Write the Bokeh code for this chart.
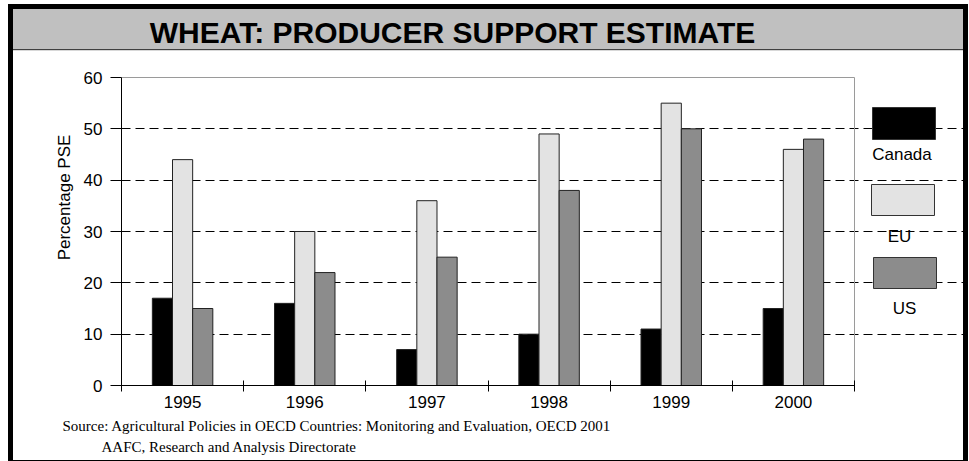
from bokeh.plotting import figure
from bokeh.models import (Range1d, FixedTicker, BoxAnnotation, Label, ColumnDataSource, Title)
from bokeh.transform import dodge
from bokeh.embed import file_html
from bokeh.resources import INLINE

# ---- data ----
years = [1995, 1996, 1997, 1998, 1999, 2000]
canada = [17, 16, 7, 10, 11, 15]
eu = [44, 30, 36, 49, 55, 46]
us = [15, 22, 25, 38, 50, 48]
series_names = ["Canada", "EU", "US"]
series_colors = ["#000000", "#e3e3e3", "#8c8c8c"]
y_ticks = [0, 10, 20, 30, 40, 50, 60]
title_text = "WHEAT: PRODUCER SUPPORT ESTIMATE"
y_label = "Percentage PSE"
source_lines = ["Source: Agricultural Policies in OECD Countries: Monitoring and Evaluation, OECD 2001",
                "AAFC, Research and Analysis Directorate"]

SANS = "Liberation Sans"
SERIF = "Liberation Serif"

# ---- layout (canvas px) ----
W, H = 950, 451
FL, FT, FB = 108, 0, 376        # frame left / top / bottom; frame runs to right edge
PLOT_TOP = 68                   # where y = 60 sits
PX_PER_YEAR = 733 / 6
x0 = years[0] - 0.5
x1 = years[-1] + 0.5
x_end = x0 + (W - FL) / PX_PER_YEAR
y_end = y_ticks[-1] + (PLOT_TOP - FT) * (y_ticks[-1] - y_ticks[0]) / (FB - PLOT_TOP)

src = ColumnDataSource(dict(year=years, Canada=canada, EU=eu, US=us))

band = ("linear-gradient(to bottom, #c0c0c0 0px, #c0c0c0 40px, #404040 40px, #404040 41.5px, "
        "#d8d8d8 41.5px, #d8d8d8 42.5px, #ffffff 42.5px)")

p = figure(width=W, height=H, output_backend="svg", toolbar_location=None, title_location=None,
           x_range=Range1d(x0, x_end), y_range=Range1d(y_ticks[0], y_end),
           min_border_left=FL, min_border_right=0, min_border_top=FT,
           min_border_bottom=H - FB,
           styles={"margin-left": "13px", "margin-top": "9px",
                   "outline": "5px solid black", "background": band})
p.extra_x_ranges = {"cx": Range1d(FL, W)}
p.extra_y_ranges = {"cy": Range1d(FB, FT)}
p.background_fill_color = None
p.border_fill_color = None
p.outline_line_color = None

# grey frame lines (top and right of the plotting area)
p.segment(x0=[x0, x1], y0=[y_ticks[-1], y_ticks[0]], x1=[x1, x1], y1=[y_ticks[-1], y_ticks[-1]],
          line_color="#9a9a9a", line_width=1)

bw = 0.165
for name, col, off in zip(series_names, series_colors, [-bw, 0.0, bw]):
    p.vbar(x=dodge("year", off), top=name, width=bw, bottom=0, source=src,
           fill_color=col, line_color="#222222", line_width=1)

# x axis
xa = p.xaxis[0]
xa.bounds = (x0, x1)
xa.ticker = FixedTicker(ticks=years, minor_ticks=[y - 0.5 for y in years] + [x1])
xa.major_tick_line_color = None
xa.major_tick_out = 0
xa.major_tick_in = 0
xa.minor_tick_in = 5
xa.minor_tick_out = 6
xa.minor_tick_line_color = "black"
xa.axis_line_color = "black"
xa.major_label_text_font = SANS
xa.major_label_text_font_size = "17px"
xa.major_label_text_color = "black"
xa.major_label_standoff = 4

# y axis
ya = p.yaxis[0]
ya.bounds = (y_ticks[0], y_ticks[-1])
ya.ticker = FixedTicker(ticks=y_ticks, minor_ticks=[])
ya.major_tick_in = 0
ya.major_tick_out = 11
ya.major_tick_line_color = "black"
ya.axis_line_color = "black"
ya.major_label_text_font = SANS
ya.major_label_text_font_size = "17px"
ya.major_label_text_color = "black"
ya.major_label_standoff = 8
ya.axis_label = y_label
ya.axis_label_text_font = SANS
ya.axis_label_text_font_size = "17px"
ya.axis_label_text_font_style = "normal"
ya.axis_label_text_color = "black"
ya.axis_label_standoff = 7

p.xgrid.grid_line_color = None
p.ygrid.ticker = FixedTicker(ticks=y_ticks[1:-1])
p.ygrid.bounds = (x0, x1)
p.ygrid.grid_line_color = "black"
p.ygrid.grid_line_dash = "9 5"
p.ygrid.grid_line_width = 1

# title
p.add_layout(Label(x=439, y=22.5, x_range_name="cx", y_range_name="cy", text=title_text,
                   text_font=SANS, text_font_size="30px", text_font_style="bold",
                   text_align="center", text_baseline="middle", text_color="black"))

# legend
leg_boxes = [(859, 98, 922, 130), (858, 175, 921, 206), (860, 248, 923, 279)]
leg_labels = [(888.5, 145), (886, 227), (891, 298.5)]
for name, col, (l, t, r, b), (lx, ly) in zip(series_names, series_colors, leg_boxes, leg_labels):
    p.add_layout(BoxAnnotation(left=l, right=r, top=t, bottom=b, x_range_name="cx", y_range_name="cy",
                               fill_color=col, fill_alpha=1.0, line_color="#333333",
                               line_width=1, line_alpha=1.0))
    p.add_layout(Label(x=lx, y=ly, x_range_name="cx", y_range_name="cy", text=name,
                       text_font=SANS, text_font_size="17px", text_align="center",
                       text_baseline="middle", text_color="black"))

# source lines below the axis
for txt, off, so in [(source_lines[0], -59, 11), (source_lines[1], -20, -6)]:
    p.add_layout(Title(text=txt, align="left", offset=off, standoff=so,
                       text_font=SERIF, text_font_size="15px", text_font_style="normal",
                       text_color="black"), "below")

open("out.html", "w").write(file_html(p, INLINE))
